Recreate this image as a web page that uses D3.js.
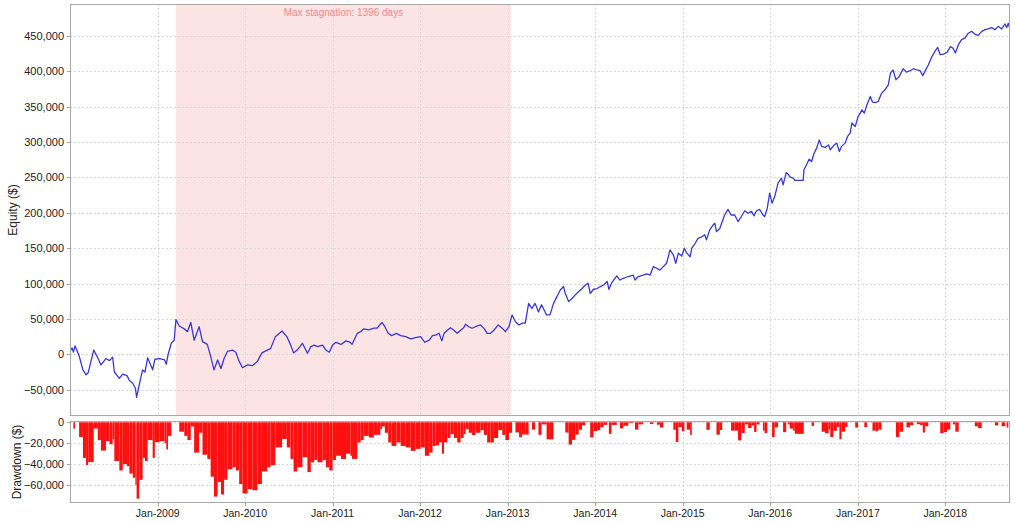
<!DOCTYPE html>
<html><head><meta charset="utf-8">
<script src="https://cdn.jsdelivr.net/npm/d3@7"></script>
<style>body{margin:0;background:#fff}svg{display:block;font-family:"Liberation Sans",Arial,sans-serif}</style>
</head><body><svg id="c" width="1015" height="523"></svg>
<script>
const dates = [
"2008-01-02","2008-01-10","2008-01-15","2008-01-22","2008-02-08","2008-02-24","2008-03-08","2008-03-17","2008-04-09","2008-04-26",
"2008-05-09","2008-05-30","2008-06-14","2008-06-27","2008-07-04","2008-07-25","2008-08-08","2008-08-26","2008-09-05","2008-09-19",
"2008-09-30","2008-10-05","2008-10-16","2008-10-30","2008-11-09","2008-11-20","2008-12-11","2008-12-20","2009-01-09","2009-01-30",
"2009-02-06","2009-02-13","2009-02-27","2009-03-11","2009-03-18","2009-04-01","2009-04-22","2009-05-05","2009-05-19","2009-06-02",
"2009-06-23","2009-07-07","2009-07-27","2009-08-10","2009-08-24","2009-09-08","2009-09-22","2009-10-05","2009-10-19","2009-11-09",
"2009-11-23","2009-12-07","2009-12-21","2010-01-11","2010-02-01","2010-02-21","2010-03-12","2010-04-03","2010-04-17","2010-05-07",
"2010-06-04","2010-06-24","2010-07-09","2010-07-22","2010-08-06","2010-08-28","2010-09-18","2010-10-02","2010-10-16","2010-10-30",
"2010-11-20","2010-12-04","2010-12-18","2011-01-01","2011-01-15","2011-02-05","2011-02-26","2011-03-16","2011-03-23","2011-04-14",
"2011-04-28","2011-05-11","2011-06-01","2011-06-22","2011-07-06","2011-07-19","2011-07-26","2011-08-07","2011-08-21","2011-09-04",
"2011-09-24","2011-10-12","2011-11-02","2011-11-23","2011-12-13","2012-01-03","2012-01-21","2012-02-08","2012-02-22","2012-03-06",
"2012-03-20","2012-04-01","2012-04-10","2012-04-24","2012-05-07","2012-05-21","2012-06-04","2012-06-18","2012-07-01","2012-07-09",
"2012-07-22","2012-08-05","2012-08-19","2012-09-09","2012-09-23","2012-10-07","2012-10-21","2012-11-04","2012-11-22","2012-12-09",
"2012-12-22","2013-01-06","2013-01-19","2013-02-02","2013-02-17","2013-03-01","2013-03-15","2013-03-29","2013-04-12","2013-04-25",
"2013-05-09","2013-05-22","2013-06-12","2013-06-26","2013-07-11","2013-07-25","2013-08-01","2013-08-08","2013-08-22","2013-08-29",
"2013-09-12","2013-09-26","2013-10-10","2013-10-24","2013-11-07","2013-11-21","2013-12-02","2013-12-11","2013-12-25","2014-01-09",
"2014-01-22","2014-02-05","2014-02-20","2014-02-27","2014-03-10","2014-04-01","2014-04-14","2014-04-28","2014-05-19","2014-06-09",
"2014-06-16","2014-06-30","2014-07-20","2014-08-04","2014-08-18","2014-09-01","2014-09-15","2014-09-28","2014-10-12","2014-10-26",
"2014-11-09","2014-11-23","2014-12-03","2014-12-14","2014-12-28","2015-01-08","2015-01-18","2015-02-01","2015-02-08","2015-02-22",
"2015-03-06","2015-03-19","2015-04-03","2015-04-10","2015-04-24","2015-05-08","2015-05-15","2015-05-22","2015-06-05","2015-06-15",
"2015-06-25","2015-07-09","2015-07-22","2015-08-06","2015-08-20","2015-09-03","2015-09-17","2015-10-01","2015-10-15","2015-10-26",
"2015-11-05","2015-11-18","2015-12-02","2015-12-09","2015-12-20","2015-12-30","2016-01-09","2016-01-20","2016-02-03","2016-02-17",
"2016-02-24","2016-03-08","2016-03-15","2016-03-23","2016-04-06","2016-04-13","2016-05-18","2016-05-21","2016-06-01","2016-06-12",
"2016-06-22","2016-07-02","2016-07-13","2016-07-24","2016-08-03","2016-08-17","2016-09-01","2016-09-08","2016-09-21","2016-10-05",
"2016-10-16","2016-10-25","2016-11-09","2016-11-19","2016-11-30","2016-12-07","2016-12-21","2017-01-02","2017-01-11","2017-01-18",
"2017-01-28","2017-02-08","2017-02-22","2017-03-03","2017-03-17","2017-03-27","2017-04-10","2017-04-24","2017-05-08","2017-05-17",
"2017-05-28","2017-06-09","2017-06-23","2017-07-09","2017-07-23","2017-08-07","2017-08-21","2017-09-04","2017-09-18","2017-09-29",
"2017-10-08","2017-10-22","2017-11-06","2017-11-20","2017-11-30","2017-12-11","2017-12-25","2018-01-08","2018-01-22","2018-02-02",
"2018-02-12","2018-02-26","2018-03-10","2018-03-24","2018-04-07","2018-04-21","2018-05-04","2018-05-18","2018-06-02","2018-06-16",
"2018-06-29","2018-07-13","2018-07-27","2018-08-10","2018-08-24","2018-09-07","2018-09-14","2018-09-21","2018-09-28"
];
const equity = [
5000,9000,3000,12000,-2000,-22000,-29000,-26000,6000,-5000,
-15000,-6000,-9000,-4000,-25000,-34000,-28000,-30000,-37000,-41000,
-48000,-61000,-43000,-22000,-25000,-5000,-22000,-7000,-6000,-8000,
-14000,-1000,16000,20000,49000,40000,36000,32000,45000,20000,
39000,18000,14000,-3000,-22000,-8000,-20000,-6000,4000,6000,
3000,-10000,-19000,-15000,-16000,-10000,2000,6000,8000,25000,
33000,25000,14000,2000,6000,15600,1400,10800,13000,10800,
13000,6000,3000,13000,17000,14000,19000,17000,14000,29700,
32000,36000,34500,37000,37000,42500,45000,39000,29700,26400,
29700,26400,25000,21700,23600,25000,17000,20000,26400,27000,
29700,19000,29700,34000,37700,34000,29700,34000,37700,42500,
39000,36800,39000,41500,37000,29700,29700,34000,41500,37000,
32000,39000,55700,46000,41500,44000,44000,72000,65000,72000,
60000,70000,55700,55700,72000,81600,86000,91000,95800,86000,
74500,79000,84000,88700,93000,98000,100500,86000,92000,93000,
95800,98000,103000,92000,100500,110800,105000,107500,110000,112000,
105000,110000,112000,113700,112000,124000,121700,119000,124000,128800,
147600,140500,128800,143000,139000,150000,143000,138000,150000,157000,
164000,165600,169000,161800,176000,183000,185400,173600,178000,187700,
197000,205000,197000,197000,187700,194800,203000,199500,202000,195800,
203000,205000,197000,194800,206600,227800,213700,223000,242000,249000,
239600,257000,255000,251000,249000,246000,246000,261000,268000,276000,
272600,284000,291500,303000,294000,292500,296000,289000,294800,298600,
286800,294000,298600,308000,312700,327000,322000,336000,341000,345700,
341000,352800,364600,356600,356000,357500,369000,374000,381000,397600,
402000,388000,393000,403800,399000,401000,403800,402000,401000,394000,
400000,409000,421000,429000,434000,423600,424500,427000,435000,433000,
426000,438700,444800,447000,454000,456600,452800,451000,456600,459000,
460000,462000,459000,463700,460000,467000,462000,468000,460000
];
const equityTicks = [-50000,0,50000,100000,150000,200000,250000,300000,350000,400000,450000];
const drawdownTicks = [0,-20000,-40000,-60000];
const yearTicks = ["2009-01-01","2010-01-01","2011-01-01","2012-01-01","2013-01-01","2014-01-01","2015-01-01","2016-01-01","2017-01-01","2018-01-01"];
const xDomain = ["2008-01-01","2018-09-28"];
const stagnation = ["2009-03-18","2013-01-14"];
const stagnationLabel = "Max stagnation: 1396 days";
const equityTitle = "Equity ($)";
const drawdownTitle = "Drawdown ($)";

const parse = d3.timeParse("%Y-%m-%d");
const data = dates.map((d,i)=>({date:parse(d), v:equity[i]}));
let peak = -Infinity;
data.forEach(p=>{ peak = Math.max(peak,p.v); p.dd = p.v - peak; });

const L=70, R=1010, T1=4, B1=416, T2=421, B2=503;
const svg = d3.select("#c");
const x = d3.scaleTime().domain(xDomain.map(parse)).range([L,R]);
const y = d3.scaleLinear().domain([-87220,495290]).range([B1,T1]);
const yd = d3.scaleLinear().domain([-77140,1240]).range([B2,T2]);
const grid = "#d9d9d9", border = "#a8a8a8";

svg.append("defs").append("clipPath").attr("id","cp1").append("rect").attr("x",L).attr("y",T1).attr("width",R-L).attr("height",B1-T1);
svg.select("defs").append("clipPath").attr("id","cp2").append("rect").attr("x",L).attr("y",T2).attr("width",R-L).attr("height",B2-T2);

// stagnation band
svg.append("rect").attr("x",x(parse(stagnation[0]))).attr("y",T1)
  .attr("width",x(parse(stagnation[1]))-x(parse(stagnation[0]))).attr("height",B1-T1).attr("fill","#fde4e4");

// grids top
const g1 = svg.append("g");
g1.selectAll(".hg").data(equityTicks).join("line").attr("x1",L).attr("x2",R).attr("y1",d=>Math.round(y(d))+0.5).attr("y2",d=>Math.round(y(d))+0.5)
  .attr("stroke",grid).attr("stroke-dasharray","2,2");
g1.selectAll(".vg").data(yearTicks).join("line").attr("y1",T1).attr("y2",B1).attr("x1",d=>Math.round(x(parse(d)))+0.5).attr("x2",d=>Math.round(x(parse(d)))+0.5)
  .attr("stroke",grid).attr("stroke-dasharray","2,2");
// grids bottom
const g2 = svg.append("g");
g2.selectAll(".hg").data(drawdownTicks).join("line").attr("x1",L).attr("x2",R).attr("y1",d=>Math.round(yd(d))+0.5).attr("y2",d=>Math.round(yd(d))+0.5)
  .attr("stroke",grid).attr("stroke-dasharray","2,2");
g2.selectAll(".vg").data(yearTicks).join("line").attr("y1",T2).attr("y2",B2).attr("x1",d=>Math.round(x(parse(d)))+0.5).attr("x2",d=>Math.round(x(parse(d)))+0.5)
  .attr("stroke",grid).attr("stroke-dasharray","2,2");

// annotation
svg.append("text").attr("x",(x(parse(stagnation[0]))+x(parse(stagnation[1])))/2).attr("y",16)
  .attr("text-anchor","middle").attr("font-size",10).attr("fill","#f08a8a").text(stagnationLabel);

// equity line
svg.append("path").datum(data).attr("clip-path","url(#cp1)")
  .attr("d",d3.line().x(d=>x(d.date)).y(d=>y(d.v)))
  .attr("fill","none").attr("stroke","#3838d8").attr("stroke-width",1.3).attr("stroke-linejoin","round");

// drawdown bars
const endX = x(parse(xDomain[1]));
svg.append("g").attr("clip-path","url(#cp2)").selectAll("rect").data(data).join("rect")
  .attr("x",d=>x(d.date))
  .attr("width",(d,i)=>Math.max(0.6,(i<data.length-1?x(data[i+1].date):endX)-x(d.date)))
  .attr("y",yd(0))
  .attr("height",d=>yd(d.dd)-yd(0))
  .attr("fill","#ff1010");

// borders
svg.append("rect").attr("x",L+0.5).attr("y",T1+0.5).attr("width",R-L-1).attr("height",B1-T1-1).attr("fill","none").attr("stroke",border);
svg.append("rect").attr("x",L+0.5).attr("y",T2+0.5).attr("width",R-L-1).attr("height",B2-T2-1).attr("fill","none").attr("stroke",border);

// y axis labels
const fmt = d3.format(",");
svg.append("g").selectAll("text").data(equityTicks).join("text")
  .attr("x",64).attr("y",d=>y(d)+4).attr("text-anchor","end").attr("font-size",11).attr("fill","#222").text(d=>fmt(d));
svg.append("g").selectAll("line").data(equityTicks).join("line")
  .attr("x1",67).attr("x2",70).attr("y1",d=>Math.round(y(d))+0.5).attr("y2",d=>Math.round(y(d))+0.5).attr("stroke",border);
svg.append("g").selectAll("text").data(drawdownTicks).join("text")
  .attr("x",64).attr("y",d=>yd(d)+4).attr("text-anchor","end").attr("font-size",11).attr("fill","#222").text(d=>fmt(d));
svg.append("g").selectAll("line").data(drawdownTicks).join("line")
  .attr("x1",67).attr("x2",70).attr("y1",d=>Math.round(yd(d))+0.5).attr("y2",d=>Math.round(yd(d))+0.5).attr("stroke",border);

// x axis labels
const xf = d3.timeFormat("%b-%Y");
svg.append("g").selectAll("text").data(yearTicks).join("text")
  .attr("x",d=>x(parse(d))).attr("y",517).attr("text-anchor","middle").attr("font-size",10.5).attr("fill","#222").text(d=>xf(parse(d)));
svg.append("g").selectAll("line").data(yearTicks).join("line")
  .attr("x1",d=>Math.round(x(parse(d)))+0.5).attr("x2",d=>Math.round(x(parse(d)))+0.5).attr("y1",B2).attr("y2",B2+3).attr("stroke",border);

// titles
svg.append("text").attr("transform",`translate(17,${(T1+B1)/2}) rotate(-90)`).attr("text-anchor","middle")
  .attr("font-size",12).attr("fill","#222").text(equityTitle);
svg.append("text").attr("transform",`translate(21,${(T2+B2)/2}) rotate(-90)`).attr("text-anchor","middle")
  .attr("font-size",12).attr("fill","#222").text(drawdownTitle);
</script></body></html>
